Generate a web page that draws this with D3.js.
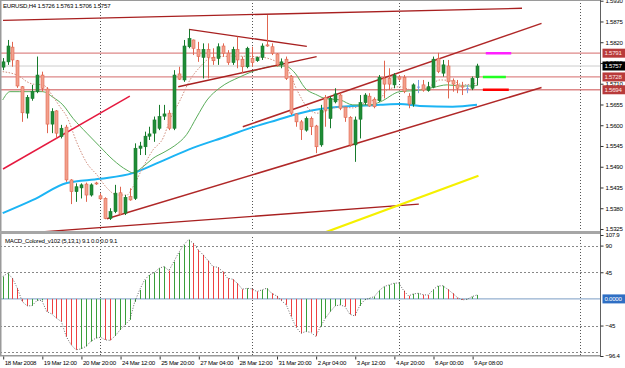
<!DOCTYPE html>
<html><head><meta charset="utf-8">
<script src="https://cdn.jsdelivr.net/npm/d3@7"></script>
<style>
body{margin:0;background:#fff}
svg{display:block;font-family:"Liberation Sans",Arial,sans-serif}
svg text{letter-spacing:-0.25px}
</style></head><body>
<svg id="c" width="625" height="368"></svg>
<script>
// ---------- DATA ----------
const symbolTitle = "EURUSD,H4  1.5726 1.5763 1.5706 1.5757";
const macdTitle = "MACD_Colored_v102 (5,13,1) 9.1 0.0 0.0 9.1";
const timeLabels = ["18 Mar 2008","19 Mar 12:00","20 Mar 20:00","24 Mar 12:00","25 Mar 20:00","27 Mar 04:00","28 Mar 12:00","31 Mar 20:00","2 Apr 04:00","3 Apr 12:00","4 Apr 20:00","8 Apr 00:00","9 Apr 08:00"];
const timeTickBars = [0,8,16,24,32,40,48,56,64,72,80,88,96];
const gridBars = [20,51,81,118];
const priceTicks = [1.5930,1.5875,1.5820,1.5765,1.5710,1.5655,1.5600,1.5545,1.5490,1.5435,1.5380,1.5325];
const levelPrices = [1.5791,1.5728,1.5694];
const bidPrice = 1.5757;
const macdTicks = [107.9,90,45,-45,-96.4];
const macdGrid = [90,45,-45,-90];

const open  = [1.5754,1.5768,1.5807,1.5771,1.5702,1.5632,1.5671,1.5689,1.5733,1.5696,1.5603,1.5638,1.5570,1.5595,1.5455,1.5424,1.5434,1.5444,1.5415,1.5447,1.5413,1.5406,1.5353,1.5371,1.5421,1.5367,1.5411,1.5406,1.5539,1.5543,1.5571,1.5579,1.5592,1.5624,1.5632,1.5592,1.5736,1.5720,1.5808,1.5826,1.5801,1.5780,1.5801,1.5780,1.5777,1.5810,1.5791,1.5766,1.5801,1.5775,1.5755,1.5777,1.5771,1.5780,1.5813,1.5808,1.5789,1.5760,1.5775,1.5729,1.5630,1.5609,1.5587,1.5618,1.5598,1.5548,1.5674,1.5618,1.5662,1.5680,1.5648,1.5621,1.5548,1.5616,1.5660,1.5677,1.5669,1.5665,1.5724,1.5724,1.5707,1.5728,1.5727,1.5677,1.5656,1.5701,1.5707,1.5692,1.5701,1.5777,1.5738,1.5757,1.5718,1.5707,1.5704,1.5697,1.5698,1.5726];
const high  = [1.5778,1.5826,1.5821,1.5773,1.5704,1.5680,1.5707,1.5782,1.5742,1.5701,1.5645,1.5640,1.5601,1.5601,1.5457,1.5446,1.5446,1.5448,1.5446,1.5450,1.5420,1.5409,1.5380,1.5442,1.5437,1.5415,1.5433,1.5552,1.5556,1.5583,1.5596,1.5623,1.5654,1.5654,1.5640,1.5746,1.5755,1.5826,1.5854,1.5827,1.5821,1.5817,1.5817,1.5804,1.5817,1.5817,1.5799,1.5808,1.5835,1.5782,1.5808,1.5808,1.5782,1.5817,1.5892,1.5817,1.5791,1.5777,1.5782,1.5733,1.5632,1.5614,1.5623,1.5623,1.5601,1.5654,1.5680,1.5677,1.5698,1.5685,1.5649,1.5624,1.5623,1.5680,1.5685,1.5685,1.5674,1.5733,1.5771,1.5751,1.5738,1.5733,1.5733,1.5685,1.5711,1.5720,1.5720,1.5715,1.5782,1.5792,1.5773,1.5773,1.5724,1.5720,1.5715,1.5707,1.5729,1.5763];
const low   = [1.5746,1.5760,1.5755,1.5699,1.5609,1.5618,1.5665,1.5685,1.5689,1.5579,1.5579,1.5565,1.5565,1.5450,1.5391,1.5397,1.5406,1.5397,1.5411,1.5442,1.5402,1.5351,1.5349,1.5367,1.5362,1.5362,1.5400,1.5402,1.5521,1.5521,1.5561,1.5556,1.5587,1.5614,1.5587,1.5587,1.5720,1.5715,1.5804,1.5786,1.5768,1.5724,1.5724,1.5760,1.5760,1.5782,1.5760,1.5760,1.5751,1.5738,1.5751,1.5755,1.5768,1.5773,1.5808,1.5786,1.5755,1.5751,1.5720,1.5627,1.5596,1.5561,1.5583,1.5574,1.5526,1.5543,1.5596,1.5592,1.5658,1.5640,1.5609,1.5543,1.5503,1.5565,1.5654,1.5649,1.5645,1.5662,1.5671,1.5693,1.5698,1.5718,1.5685,1.5645,1.5649,1.5685,1.5689,1.5689,1.5698,1.5738,1.5729,1.5671,1.5689,1.5685,1.5680,1.5685,1.5693,1.5706];
const close = [1.5768,1.5810,1.5773,1.5704,1.5633,1.5674,1.5689,1.5733,1.5698,1.5603,1.5636,1.5579,1.5592,1.5455,1.5424,1.5437,1.5442,1.5415,1.5442,1.5445,1.5405,1.5353,1.5371,1.5420,1.5365,1.5409,1.5402,1.5539,1.5545,1.5571,1.5577,1.5614,1.5623,1.5630,1.5592,1.5733,1.5722,1.5810,1.5830,1.5804,1.5782,1.5801,1.5780,1.5771,1.5808,1.5791,1.5766,1.5801,1.5773,1.5755,1.5804,1.5766,1.5779,1.5810,1.5810,1.5791,1.5760,1.5768,1.5724,1.5632,1.5609,1.5589,1.5618,1.5596,1.5543,1.5640,1.5640,1.5671,1.5683,1.5645,1.5621,1.5548,1.5614,1.5660,1.5680,1.5651,1.5649,1.5727,1.5709,1.5709,1.5733,1.5722,1.5689,1.5656,1.5707,1.5701,1.5693,1.5702,1.5775,1.5742,1.5760,1.5715,1.5709,1.5698,1.5701,1.5697,1.5724,1.5757];

// moving averages: [bar index, price]
const maBlue = [[0,1.5367],[6.2,1.5402],[13.1,1.5447],[19.9,1.5458],[26.6,1.5473],[32.2,1.5503],[38.9,1.5540],[45.9,1.5571],[51.2,1.5595],[56.1,1.5614],[60.8,1.5632],[64.9,1.5643],[71.6,1.5651],[77.2,1.5654],[81.2,1.5656],[85.3,1.5651],[92,1.5649],[97,1.5654]];
const maGreen = [[0,1.5667],[1.5,1.5689],[3.5,1.5689],[6.2,1.5689],[8.2,1.5689],[10.3,1.5674],[12.3,1.5654],[14.4,1.5618],[17.2,1.5579],[19.9,1.5543],[22.6,1.5508],[25.4,1.5481],[26.6,1.5474],[28.7,1.5490],[30.7,1.5512],[33.2,1.5530],[35.2,1.5546],[37.6,1.5575],[39.7,1.5622],[41.8,1.5667],[44.4,1.5699],[48.5,1.5728],[52.6,1.5749],[55.7,1.5757],[57.7,1.5757],[59.8,1.5738],[61.8,1.5699],[64.3,1.5680],[65.9,1.5671],[69,1.5667],[71.6,1.5654],[75.1,1.5654],[77.2,1.5662],[81.2,1.5689],[85.3,1.5693],[88,1.5700],[90.9,1.5707],[93.5,1.5704],[96.2,1.5704],[97.2,1.5707]];
const maDotted = [[0,1.5742],[3.5,1.5729],[5,1.5715],[6.2,1.5709],[8.2,1.5707],[10.3,1.5676],[11.7,1.5649],[13.1,1.5623],[15.2,1.5553],[17.2,1.5500],[19.3,1.5468],[21.3,1.5434],[23.4,1.5415],[25.4,1.5415],[26.6,1.5436],[28.7,1.5489],[30.7,1.5534],[32.8,1.5566],[34.2,1.5614],[36.3,1.5667],[38.3,1.5720],[40.4,1.5755],[41.8,1.5773],[44.4,1.5782],[48.5,1.5783],[52.6,1.5781],[56.1,1.5768],[58.1,1.5752],[60.2,1.5693],[62.2,1.5649],[64.3,1.5632],[69,1.5649],[71.6,1.5646],[74.5,1.5662],[77.2,1.5671],[78.6,1.5693],[81.2,1.5702],[83.9,1.5693],[86.8,1.5699],[89.4,1.5720],[92.1,1.5717],[94.1,1.5707],[97,1.5712]];

// trend lines: [[bar, price],[bar, price]]
const lineTop     = [[0.06,1.5878],[106.2,1.5910]];
const lineCrimson = [[0.06,1.5484],[26,1.5677]];
const triUpper    = [[38.1,1.5854],[62.2,1.5809]];
const triLower    = [[35.9,1.5702],[64.2,1.5782]];
const chanUpper   = [[49.1,1.5596],[110.2,1.5870]];
const chanLower   = [[21.3,1.5352],[110.2,1.5700]];
const lineBottom  = [[7.6,1.5317],[85.1,1.5391]];
const lineYellow  = [[65.5,1.5314],[97.3,1.5466]];
const segMagenta  = [[98.8,1.5791],[104,1.5791]];
const segLime     = [[98.2,1.5728],[102.9,1.5728]];
const segRed      = [[98.2,1.5694],[103.5,1.5694]];

const macd = [37.7,43.3,34.9,18,-4.5,-11.8,-11.5,-2.8,-2.5,-21.4,-25.3,-32.6,-38.3,-63.6,-77.6,-86,-84.4,-80.4,-72,-66.4,-64.7,-69.2,-70,-62.4,-52.3,-43.9,-35.4,-5,15.2,32,40.5,44.4,51.8,54.6,47.8,63,78.2,91,100,94,82.7,74.3,64.7,54.6,53.4,46.1,34.9,33.2,26.4,16.3,18,16.8,12.4,15.2,18,9.6,5.1,-2.8,-10.1,-29.8,-47.8,-58,-55,-56.5,-63,-46.7,-32.6,-21.4,-11.8,-10.1,-12.9,-26,-28.7,-11.8,-1.7,1.1,3.9,14,20.8,23.6,26.4,27,14,5.1,8.5,9.5,7,6.5,15.2,21.9,22.2,16.3,9.6,2.2,-1.7,-0.6,3.9,6.7];

// ---------- LAYOUT ----------
const svg = d3.select("#c");
const FS = 6.1;
const x  = d3.scaleLinear().domain([0,97]).range([2.7,477.0]);
const y  = d3.scaleLinear().domain([1.5325,1.5757]).range([229,66]);
const ym = d3.scaleLinear().domain([-96.4,107.9]).range([356,235]);
const AX = 600.5;

const defs = svg.append("defs");
defs.append("clipPath").attr("id","cm").append("rect").attr("x",1).attr("y",1).attr("width",AX-1).attr("height",230);
defs.append("clipPath").attr("id","cd").append("rect").attr("x",1).attr("y",235).attr("width",AX-1).attr("height",120.5);

const gm = svg.append("g").attr("clip-path","url(#cm)");
const gd = svg.append("g").attr("clip-path","url(#cd)");

[gm,gd].forEach(g=>{
  g.selectAll(".vg").data(gridBars).join("line")
   .attr("x1",d=>Math.round(x(d))+0.5).attr("x2",d=>Math.round(x(d))+0.5)
   .attr("y1",0).attr("y2",368).attr("stroke","#555").attr("stroke-dasharray","1,2");
});

gm.selectAll(".lv").data(levelPrices).join("line")
  .attr("x1",0).attr("x2",AX).attr("y1",d=>y(d)).attr("y2",d=>y(d))
  .attr("stroke","#d87474").attr("stroke-width",1.3).attr("opacity",0.85);
gm.append("line").attr("x1",0).attr("x2",AX).attr("y1",y(bidPrice)).attr("y2",y(bidPrice))
  .attr("stroke","#cccccc").attr("stroke-width",1);

const pl = d3.line().x(d=>x(d[0])).y(d=>y(d[1]));
const pc = d3.line().x(d=>x(d[0])).y(d=>y(d[1])).curve(d3.curveMonotoneX);

gm.append("path").attr("d",pc(maBlue)).attr("fill","none").attr("stroke","#1cb4f4").attr("stroke-width",2);
gm.append("path").attr("d",pc(maGreen)).attr("fill","none").attr("stroke","#5aac5a").attr("stroke-width",1);
gm.append("path").attr("d",pc(maDotted)).attr("fill","none").attr("stroke","#cf8c7c").attr("stroke-width",1).attr("stroke-dasharray","1.5,1.5");

const tl = (pts,col,w)=>gm.append("path").attr("d",pl(pts)).attr("fill","none").attr("stroke",col).attr("stroke-width",w);
tl(lineTop,"#a82020",1.3);
tl(lineCrimson,"#e5193f",1.5);
tl(triUpper,"#a82020",1.3);
tl(triLower,"#a82020",1.3);
tl(chanUpper,"#b02828",1.5);
tl(chanLower,"#b02828",1.5);
tl(lineBottom,"#a82020",1.3);

const idx = d3.range(open.length);
const cg = gm.append("g");
idx.forEach(i=>{
  const o=open[i],c=close[i],h=high[i],l=low[i];
  const cx=Math.round(x(i))+0.5;
  const doji = Math.abs(o-c)<0.00005;
  const bull = c>o;
  const stroke = doji?"#7a9fe6":(bull?"#177a2c":"#e0654f");
  const fill = bull?"#1f8c36":"#f2a08c";
  cg.append("line").attr("x1",cx).attr("x2",cx).attr("y1",y(h)).attr("y2",y(l)).attr("stroke",stroke).attr("stroke-width",1);
  if(doji){
    cg.append("line").attr("x1",cx-1.5).attr("x2",cx+1.5).attr("y1",y(o)).attr("y2",y(o)).attr("stroke",stroke);
  } else {
    const top=y(Math.max(o,c)), bot=y(Math.min(o,c));
    cg.append("rect").attr("x",cx-1.5).attr("width",3).attr("y",top).attr("height",Math.max(1,bot-top))
      .attr("fill",fill).attr("stroke",stroke).attr("stroke-width",0.6);
  }
});

tl(lineYellow,"#f5f000",2.2);
tl(segMagenta,"#ff20ff",2.5);
tl(segLime,"#22ff22",2.5);
tl(segRed,"#ff0000",2.5);

svg.append("text").attr("x",3).attr("y",8).attr("font-size",FS).attr("fill","#000").text(symbolTitle);

// ---------- MACD ----------
gd.selectAll(".hg").data(macdGrid).join("line")
  .attr("x1",0).attr("x2",AX).attr("y1",d=>Math.round(ym(d))+0.5).attr("y2",d=>Math.round(ym(d))+0.5)
  .attr("stroke","#888").attr("stroke-dasharray","2,2");
gd.append("line").attr("x1",0).attr("x2",AX).attr("y1",ym(0)).attr("y2",ym(0)).attr("stroke","#7b9cc4").attr("stroke-width",1);
gd.selectAll(".hb").data(idx).join("line")
  .attr("x1",i=>Math.round(x(i))+0.5).attr("x2",i=>Math.round(x(i))+0.5)
  .attr("y1",ym(0)).attr("y2",i=>ym(macd[i]))
  .attr("stroke",i=>(i===0||macd[i]>=macd[i-1])?"#3a9e3a":"#ee4040").attr("stroke-width",1);
gd.append("path").attr("d",d3.line().x(i=>x(i)).y(i=>ym(macd[i]))(idx))
  .attr("fill","none").attr("stroke","#444").attr("stroke-width",0.8).attr("stroke-dasharray","1,1.6");
svg.append("text").attr("x",5).attr("y",242.5).attr("font-size",FS).attr("fill","#000").text(macdTitle);

// ---------- FRAME ----------
svg.append("rect").attr("x",0).attr("y",0).attr("width",1.5).attr("height",356).attr("fill","#9a9a9a");
svg.append("rect").attr("x",0).attr("y",0).attr("width",AX).attr("height",1).attr("fill","#9a9a9a");
svg.append("rect").attr("x",0).attr("y",231).attr("width",AX).attr("height",3).attr("fill","#a6a6a6");
svg.append("rect").attr("x",0).attr("y",355).attr("width",AX).attr("height",1.5).attr("fill","#9a9a9a");
svg.append("line").attr("x1",AX).attr("x2",AX).attr("y1",0).attr("y2",357).attr("stroke","#606060");

const ya = svg.append("g").attr("transform",`translate(${AX},0)`)
  .call(d3.axisRight(y).tickValues(priceTicks).tickFormat(d3.format(".4f")).tickSize(3).tickPadding(2));
ya.select(".domain").remove();
ya.selectAll("line").attr("stroke","#333");
ya.selectAll("text").attr("font-size",FS).attr("font-family","Liberation Sans, Arial").attr("fill","#000");

const tag = (p,bg,fg)=>{
  const g=svg.append("g").attr("transform",`translate(${AX+2},${y(p)})`);
  g.append("rect").attr("x",0).attr("y",-4.5).attr("width",22.5).attr("height",9).attr("fill",bg);
  g.append("text").attr("x",2).attr("y",2.2).attr("font-size",FS).attr("fill",fg).text(d3.format(".4f")(p));
};
levelPrices.forEach(p=>tag(p,"#b83a3a","#ffe8e8"));
tag(bidPrice,"#000","#fff");

const ma = svg.append("g").attr("transform",`translate(${AX},0)`)
  .call(d3.axisRight(ym).tickValues(macdTicks).tickFormat(d=>d3.format("")(d)).tickSize(3).tickPadding(2));
ma.select(".domain").remove();
ma.selectAll("line").attr("stroke","#333");
ma.selectAll("text").attr("font-size",FS).attr("font-family","Liberation Sans, Arial").attr("fill","#000");
{
  const g=svg.append("g").attr("transform",`translate(${AX+2},${ym(0)})`);
  g.append("rect").attr("x",0).attr("y",-4.5).attr("width",22.5).attr("height",9).attr("fill","#2f6fc4");
  g.append("text").attr("x",2).attr("y",2.2).attr("font-size",FS).attr("fill","#fff").text(d3.format(".4f")(0));
}

const xa = svg.append("g").attr("transform","translate(0,356.5)")
  .call(d3.axisBottom(x).tickValues(timeTickBars).tickFormat((d,k)=>timeLabels[k]).tickSize(3).tickPadding(1));
xa.select(".domain").remove();
xa.selectAll("line").attr("stroke","#333").attr("transform","translate(0.5,0)");
xa.selectAll("text").attr("font-size",FS).attr("font-family","Liberation Sans, Arial").attr("fill","#000")
  .attr("text-anchor","start").attr("dx",1.5);
</script></body></html>
